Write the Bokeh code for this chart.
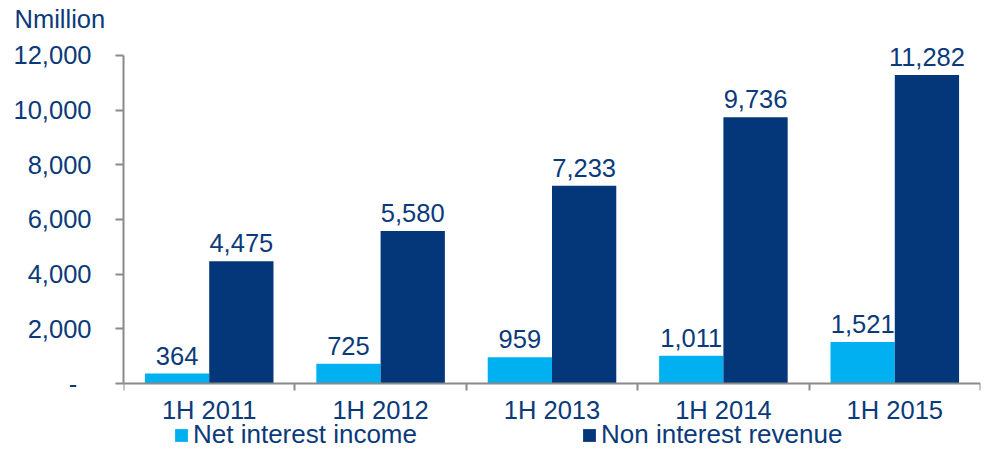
from bokeh.plotting import figure
from bokeh.models import ColumnDataSource, FixedTicker, Range1d, Legend, LegendItem, NumeralTickFormatter
from bokeh.transform import dodge
from bokeh.core.properties import value
from bokeh.embed import file_html
from bokeh.resources import INLINE

periods = ["1H 2011", "1H 2012", "1H 2013", "1H 2014", "1H 2015"]
net_interest_income = [364, 725, 959, 1011, 1521]
non_interest_revenue = [4475, 5580, 7233, 9736, 11282]
y_ticks = [0, 2000, 4000, 6000, 8000, 10000, 12000]
unit_label = "Nmillion"
series_names = ["Net interest income", "Non interest revenue"]

LIGHT = "#00b0f0"
DARK = "#04367a"
TEXT = "#0b3a7a"
AXIS = "#8a8a8a"
FONT = "Liberation Sans"
FS = "25.5px"
LFS = "26px"

centers = [i + 0.5 for i in range(len(periods))]
src = ColumnDataSource(dict(
    x=centers,
    nii=net_interest_income,
    nir=non_interest_revenue,
    nii_t=[f"{v:,}" for v in net_interest_income],
    nir_t=[f"{v:,}" for v in non_interest_revenue],
))

p = figure(width=982, height=450, output_backend="svg", toolbar_location=None,
           x_range=Range1d(0, len(periods)), y_range=Range1d(-2451, 12841),
           min_border_left=123, min_border_right=2, min_border_top=32, min_border_bottom=0)
p.outline_line_color = None
p.xgrid.visible = False
p.ygrid.visible = False
p.background_fill_color = "white"
p.border_fill_color = "white"

p.title.text = unit_label
p.title.align = "left"
p.title.offset = -109
p.title.standoff = 0
p.title.text_font = FONT
p.title.text_font_size = FS
p.title.text_font_style = "normal"
p.title.text_color = TEXT

w = 0.375
r1 = p.vbar(x=dodge("x", -w / 2), top="nii", bottom=0, width=w, source=src, fill_color=LIGHT, line_color=None)
r2 = p.vbar(x=dodge("x", w / 2), top="nir", bottom=0, width=w, source=src, fill_color=DARK, line_color=None)

for field, col, off in (("nii", "nii_t", -w / 2), ("nir", "nir_t", w / 2)):
    p.text(x=dodge("x", off), y=field, text=col, source=src, text_align="center",
           text_baseline="alphabetic", y_offset=-18, text_color=TEXT,
           text_font=value(FONT), text_font_size=FS)

# y axis
ya = p.yaxis[0]
ya.ticker = FixedTicker(ticks=y_ticks)
ya.bounds = (y_ticks[0], y_ticks[-1])
ya.formatter = NumeralTickFormatter(format="0,0")
ya.major_label_overrides = {0: "-\u00a0\u00a0"}
ya.axis_line_color = AXIS
ya.axis_line_width = 2
ya.major_tick_line_color = AXIS
ya.major_tick_line_width = 2
ya.major_tick_out = 8
ya.major_tick_in = 0
ya.minor_tick_line_color = None
ya.major_label_standoff = 24
ya.major_label_text_font = FONT
ya.major_label_text_font_size = FS
ya.major_label_text_color = TEXT

# x axis, drawn at y = 0 inside the frame
xa = p.xaxis[0]
xa.fixed_location = 0
xa.ticker = FixedTicker(ticks=centers, minor_ticks=list(range(len(periods) + 1)))
xa.major_label_overrides = {c: lab for c, lab in zip(centers, periods)}
xa.axis_line_color = AXIS
xa.axis_line_width = 2
xa.major_tick_line_color = None
xa.major_tick_out = 0
xa.major_tick_in = 0
xa.minor_tick_line_color = AXIS
xa.minor_tick_line_width = 2
xa.minor_tick_out = 7
xa.minor_tick_in = 0
xa.major_label_standoff = 5
xa.major_label_text_font = FONT
xa.major_label_text_font_size = FS
xa.major_label_text_color = TEXT

legend = Legend(items=[LegendItem(label=series_names[0], renderers=[r1]),
                       LegendItem(label=series_names[1], renderers=[r2])],
                orientation="horizontal", location=(50, 0))
legend.glyph_width = 16
legend.glyph_height = 16
legend.label_standoff = 4
legend.spacing = 164
legend.padding = 0
legend.margin = 0
legend.border_line_color = None
legend.background_fill_alpha = 0
legend.label_text_font = FONT
legend.label_text_font_size = LFS
legend.label_text_color = TEXT
p.add_layout(legend, "center")

open("out.html", "w").write(file_html(p, INLINE))
